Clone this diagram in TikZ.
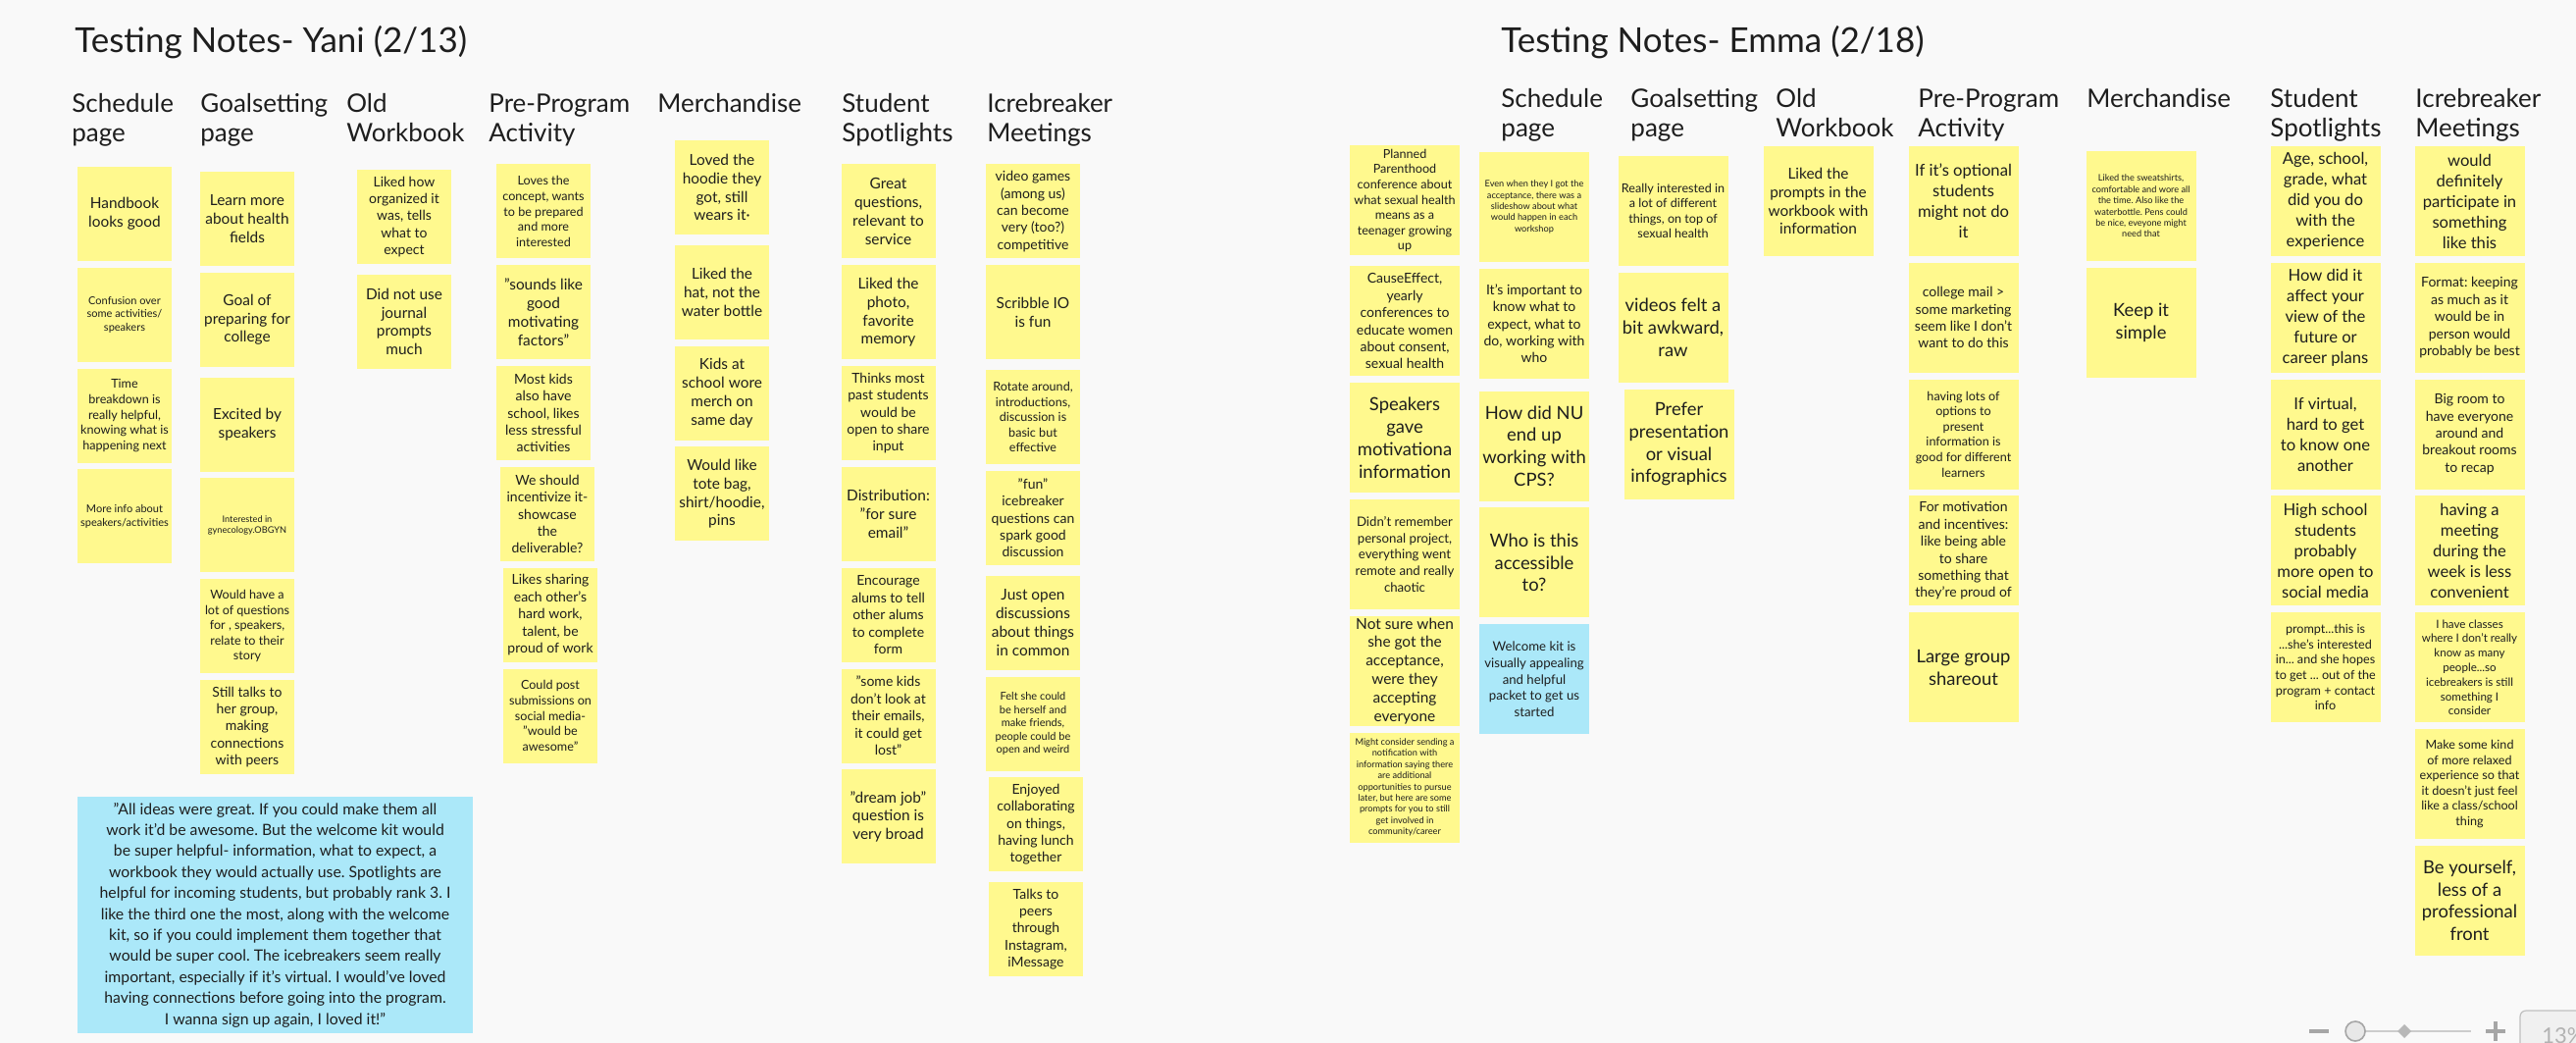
\documentclass[tikz,border=0pt]{standalone}
\usepackage{fontspec}
\setmainfont{Lato}
\usetikzlibrary{positioning}
\usepackage{xcolor}
\definecolor{boardbg}{HTML}{F9F9F9}
\definecolor{stickyyel}{HTML}{FFF98E}
\definecolor{stickyblue}{HTML}{ABE8F9}
\definecolor{inkgray}{HTML}{1E1E1E}
\definecolor{uigray}{HTML}{A6A6A6}
\newcommand{\fz}[2]{\fontsize{#1pt}{#2pt}\selectfont}
\frenchspacing

\begin{document}
\begin{tikzpicture}[
  x=0.5pt, y=-0.5pt,
  node distance=3pt,
  yn/.style={fill=stickyyel, minimum width=48pt, minimum height=48pt,
             inner sep=1pt, align=center, text=inkgray},
  en/.style={yn, minimum width=56pt, minimum height=56pt},
  bn/.style={en, fill=stickyblue},
  fa/.style={font=\fz{4.6}{5.7}},
  fb/.style={font=\fz{5.5}{6.8}},
  fbc/.style={font=\fz{5.8}{7.4}},
  fc/.style={font=\fz{6.3}{7.8}},
  fcd/.style={font=\fz{6.6}{8.3}},
  fd/.style={font=\fz{7}{8.7}},
  fe/.style={font=\fz{7.7}{9.4}},
  ff/.style={font=\fz{8.3}{10.5}},
  fg/.style={font=\fz{9.2}{11.4}},
  ttl/.style={font=\fz{17.5}{20}, anchor=base west, inner sep=0pt, text=inkgray},
  hd/.style={font=\fz{13}{15}, align=left, anchor=north west, inner sep=0pt, text=inkgray},
  qbox/.style={fill=stickyblue, minimum width=201.5pt, minimum height=120.5pt,
               inner sep=1pt, align=center, text=inkgray, font=\fz{7.9}{10.7}}
]
  \useasboundingbox (0,0) rectangle (2626,1063);
  \clip (0,0) rectangle (2626,1063);
  \fill[boardbg] (0,0) rectangle (2626,1063);

  % Titles
  \node[ttl] (yani) at (76,54) {Testing Notes- Yani (2/13)};
  \node[ttl] (emma) at (1530,54) {Testing Notes- Emma (2/18)};

  % Yani -- headers
  \node[hd] (hys) at (73,95)   {Schedule\\page};
  \node[hd] (hyg) at (204,95)  {Goalsetting\\page};
  \node[hd] (hyo) at (353,95)  {Old\\Workbook};
  \node[hd] (hyp) at (498,95)  {Pre-Program\\Activity};
  \node[hd] (hym) at (670,95)  {Merchandise};
  \node[hd] (hyt) at (858,95)  {Student\\Spotlights};
  \node[hd] (hyi) at (1006,95) {Icrebreaker\\Meetings};

  % Yani -- Schedule page
  \node[yn, fe] (s1) at (127,218) {Handbook\\looks good};
  \node[yn, fb, below=of s1] (s2) {Confusion over\\some activities/\\speakers};
  \node[yn, fc, below=of s2] (s3) {Time\\breakdown is\\really helpful,\\knowing what is\\happening next};
  \node[yn, fb, below=of s3] (s4) {More info about\\speakers/activities};

  % Yani -- Goalsetting page
  \node[yn, fe] (g1) at (252,223) {Learn more\\about health\\fields};
  \node[yn, fe, below=of g1] (g2) {Goal of\\preparing for\\college};
  \node[yn, fe, below=5pt of g2] (g3) {Excited by\\speakers};
  \node[yn, fa, below=of g3] (g4) {Interested in\\gynecology.OBGYN};
  \node[yn, fc, below=of g4] (g5) {Would have a\\lot of questions\\for , speakers,\\relate to their\\story};
  \node[yn, fd, below=of g5] (g6) {Still talks to\\her group,\\making\\connections\\with peers};

  % Yani -- Old Workbook
  \node[yn, fd] (o1) at (412,221) {Liked how\\organized it\\was, tells\\what to\\expect};
  \node[yn, fe, below=5pt of o1] (o2) {Did not use\\journal\\prompts\\much};

  % Yani -- Pre-Program Activity
  \node[yn, fc] (p1) at (554,215.5) {Loves the\\concept, wants\\to be prepared\\and more\\interested};
  \node[yn, fe, below=of p1] (p2) {"sounds like\\good\\motivating\\factors"};
  \node[yn, fd, below=of p2] (p3) {Most kids\\also have\\school, likes\\less stressful\\activities};
  \node[yn, fd, below=of p3, xshift=2pt] (p4) {We should\\incentivize it-\\showcase\\the\\deliverable?};
  \node[yn, fd, below=of p4, xshift=1.5pt] (p5) {Likes sharing\\each other's\\hard work,\\talent, be\\proud of work};
  \node[yn, fc, below=of p5] (p6) {Could post\\submissions on\\social media-\\"would be\\awesome"};

  % Yani -- Merchandise
  \node[yn, fe] (m1) at (736,191) {Loved the\\hoodie they\\got, still\\wears it·};
  \node[yn, fe, below=5pt of m1] (m2) {Liked the\\hat, not the\\water bottle};
  \node[yn, fe, below=of m2] (m3) {Kids at\\school wore\\merch on\\same day};
  \node[yn, fe, below=of m3] (m4) {Would like\\tote bag,\\shirt/hoodie,\\pins};

  % Yani -- Student Spotlights
  \node[yn, fe] (t1) at (905.5,215.5) {Great\\questions,\\relevant to\\service};
  \node[yn, fe, below=of t1] (t2) {Liked the\\photo,\\favorite\\memory};
  \node[yn, fd, below=of t2] (t3) {Thinks most\\past students\\would be\\open to share\\input};
  \node[yn, fe, below=of t3] (t4) {Distribution:\\"for sure\\email"};
  \node[yn, fd, below=of t4] (t5) {Encourage\\alums to tell\\other alums\\to complete\\form};
  \node[yn, fd, below=of t5] (t6) {"some kids\\don't look at\\their emails,\\it could get\\lost"};
  \node[yn, fe, below=of t6] (t7) {"dream job"\\question is\\very broad};

  % Yani -- Icrebreaker Meetings
  \node[yn, fd] (i1) at (1053,215.5) {video games\\(among us)\\can become\\very (too?)\\competitive};
  \node[yn, fe, below=of i1] (i2) {Scribble IO\\is fun};
  \node[yn, fc, below=5pt of i2] (i3) {Rotate around,\\introductions,\\discussion is\\basic but\\effective};
  \node[yn, fd, below=of i3] (i4) {"fun"\\icebreaker\\questions can\\spark good\\discussion};
  \node[yn, fe, below=5pt of i4] (i5) {Just open\\discussions\\about things\\in common};
  \node[yn, fb, below=of i5] (i6) {Felt she could\\be herself and\\make friends,\\people could be\\open and weird};
  \node[yn, fd, below=of i6, xshift=1.5pt] (i7) {Enjoyed\\collaborating\\on things,\\having lunch\\together};
  \node[yn, fd, below=5pt of i7] (i8) {Talks to\\peers\\through\\Instagram,\\iMessage};

  % Yani -- summary quote
  \node[qbox] (quote) at (280.5,932.5) {"All ideas were great. If you could make them all\\
    work it'd be awesome. But the welcome kit would\\
    be super helpful- information, what to expect, a\\
    workbook they would actually use. Spotlights are\\
    helpful for incoming students, but probably rank 3. I\\
    like the third one the most, along with the welcome\\
    kit, so if you could implement them together that\\
    would be super cool. The icebreakers seem really\\
    important, especially if it's virtual. I would've loved\\
    having connections before going into the program.\\
    I wanna sign up again, I loved it!"};

  % Emma -- headers
  \node[hd] (hes) at (1530,90) {Schedule\\page};
  \node[hd] (heg) at (1662,90) {Goalsetting\\page};
  \node[hd] (heo) at (1810,90) {Old\\Workbook};
  \node[hd] (hep) at (1955,90) {Pre-Program\\Activity};
  \node[hd] (hem) at (2127,90) {Merchandise};
  \node[hd] (het) at (2314,90) {Student\\Spotlights};
  \node[hd] (hei) at (2462,90) {Icrebreaker\\Meetings};

  % Emma -- loose column
  \node[en, fc] (a1) at (1432,204.5) {Planned\\Parenthood\\conference about\\what sexual health\\means as a\\teenager growing\\up};
  \node[en, fd, below=5pt of a1] (a2) {CauseEffect,\\yearly\\conferences to\\educate women\\about consent,\\sexual health};
  \node[en, fg, below=of a2] (a3) {Speakers\\gave\\motivationa\\information};
  \node[en, fcd, below=of a3] (a4) {Didn't remember\\personal project,\\everything went\\remote and really\\chaotic};
  \node[en, fe, below=of a4] (a5) {Not sure when\\she got the\\acceptance,\\were they\\accepting\\everyone};
  \node[en, fa, below=of a5] (a6) {Might consider sending a\\notification with\\information saying there\\are additional\\opportunities to pursue\\later, but here are some\\prompts for you to still\\get involved in\\community/career};

  % Emma -- Schedule page
  \node[en, fa] (b1) at (1564,211) {Even when they I got the\\acceptance, there was a\\slideshow about what\\would happen in each\\workshop};
  \node[en, fd, below=of b1] (b2) {It's important to\\know what to\\expect, what to\\do, working with\\who};
  \node[en, fg, below=6pt of b2] (b3) {How did NU\\end up\\working with\\CPS?};
  \node[en, fg, below=of b3] (b4) {Who is this\\accessible\\to?};
  \node[bn, fcd, below=of b4] (b5) {Welcome kit is\\visually appealing\\and helpful\\packet to get us\\started};

  % Emma -- Goalsetting page
  \node[en, fc] (c1) at (1705.5,215) {Really interested in\\a lot of different\\things, on top of\\sexual health};
  \node[en, fg, below=of c1] (c2) {videos felt a\\bit awkward,\\raw};
  \node[en, fg, below=of c2, xshift=3pt] (c3) {Prefer\\presentation\\or visual\\infographics};

  % Emma -- Old Workbook
  \node[en, fe] (d1) at (1853.5,205) {Liked the\\prompts in the\\workbook with\\information};

  % Emma -- Pre-Program Activity
  \node[en, ff] (e1) at (2001.5,205) {If it's optional\\students\\might not do\\it};
  \node[en, fd, below=of e1] (e2) {college mail >\\some marketing\\seem like I don't\\want to do this};
  \node[en, fc, below=of e2] (e3) {having lots of\\options to\\present\\information is\\good for different\\learners};
  \node[en, fd, below=of e3] (e4) {For motivation\\and incentives:\\like being able\\to share\\something that\\they're proud of};
  \node[en, fg, below=of e4] (e5) {Large group\\shareout};

  % Emma -- Merchandise
  \node[en, fa] (f1) at (2182.5,210) {Liked the sweatshirts,\\comfortable and wore all\\the time. Also like the\\waterbottle. Pens could\\be nice, eveyone might\\need that};
  \node[en, fg, below=of f1] (f2) {Keep it\\simple};

  % Emma -- Student Spotlights
  \node[en, ff] (h1) at (2370.5,205) {Age, school,\\grade, what\\did you do\\with the\\experience};
  \node[en, ff, below=of h1] (h2) {How did it\\affect your\\view of the\\future or\\career plans};
  \node[en, ff, below=of h2] (h3) {If virtual,\\hard to get\\to know one\\another};
  \node[en, ff, below=of h3] (h4) {High school\\students\\probably\\more open to\\social media};
  \node[en, fc, below=of h4] (h5) {prompt...this is\\...she's interested\\in... and she hopes\\to get ... out of the\\program + contact\\info};

  % Emma -- Icrebreaker Meetings
  \node[en, ff] (j1) at (2517.5,205) {would\\definitely\\participate in\\something\\like this};
  \node[en, fd, below=of j1] (j2) {Format: keeping\\as much as it\\would be in\\person would\\probably be best};
  \node[en, fd, below=of j2] (j3) {Big room to\\have everyone\\around and\\breakout rooms\\to recap};
  \node[en, ff, below=of j3] (j4) {having a\\meeting\\during the\\week is less\\convenient};
  \node[en, fbc, below=of j4] (j5) {I have classes\\where I don't really\\know as many\\people...so\\icebreakers is still\\something I\\consider};
  \node[en, fc, below=of j5] (j6) {Make some kind\\of more relaxed\\experience so that\\it doesn't just feel\\like a class/school\\thing};
  \node[en, fg, below=of j6] (j7) {Be yourself,\\less of a\\professional\\front};

  % zoom control, bottom right
  \draw[uigray, line width=1.6pt] (2354,1051) -- (2374,1051);
  \draw[black!20, line width=0.6pt] (2401,1051) -- (2519,1051);
  \draw[uigray, fill=black!9, line width=0.8pt] (2401,1051) circle (5pt);
  \fill[black!28] (2451,1044) -- (2458,1051) -- (2451,1058) -- (2444,1051) -- cycle;
  \draw[uigray, line width=1.6pt] (2534,1051) -- (2554,1051) (2544,1041) -- (2544,1061);
  \draw[black!25, fill=black!6, rounded corners=3pt, line width=0.6pt] (2569,1030) rectangle (2660,1090);
  \node[anchor=base west, inner sep=0pt, text=black!30, font=\fz{11}{13}] (zoomlvl) at (2591,1063) {13\%};
\end{tikzpicture}
\end{document}
